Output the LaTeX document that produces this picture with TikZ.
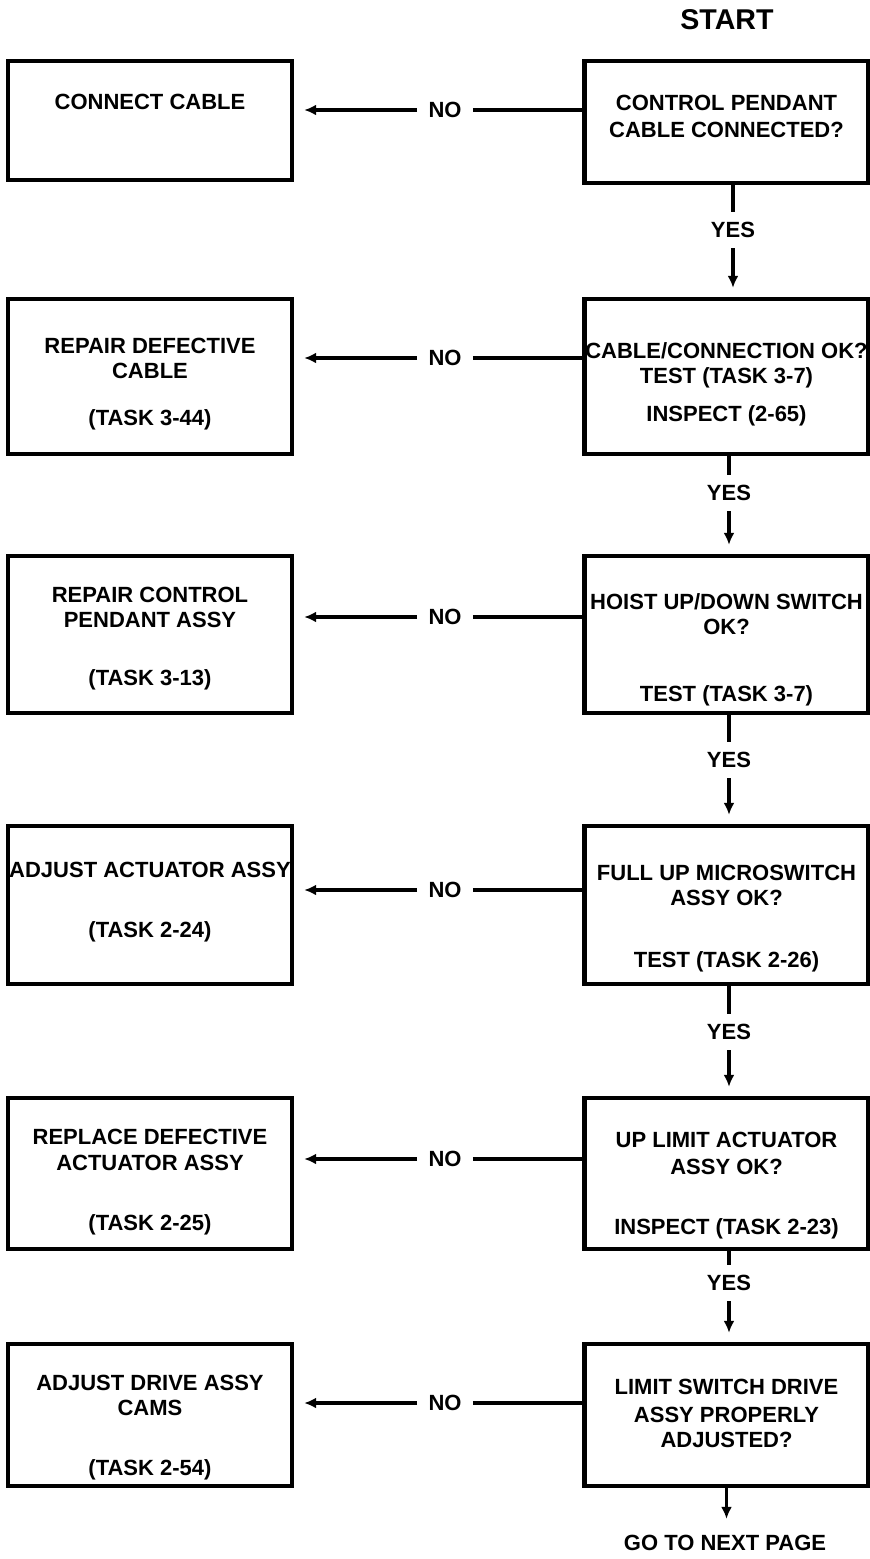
\documentclass[tikz,border=0pt]{standalone}
\usepackage{fontspec}
\setmainfont{Liberation Sans}
\usetikzlibrary{arrows.meta, positioning, calc}
\tikzset{
  box/.style={rectangle, draw=black, line width=2.2pt,
    minimum width=142pt, inner sep=0pt},
  boxtext/.style={font=\fontsize{11}{12.5}\selectfont\bfseries,
    align=center, inner sep=0pt, anchor=north},
  yesno/.style={font=\fontsize{11}{12.5}\selectfont\bfseries, inner sep=5pt},
  notag/.style={yesno, inner xsep=5.5pt},
  arrow/.style={-{Latex[length=6pt,width=5.5pt]}, line width=1.6pt},
  line/.style={line width=1.6pt}
}

\begin{document}
\begin{tikzpicture}[x=0.5pt, y=-0.5pt]
  \useasboundingbox (0,0) rectangle (870,1559);

  \node[yesno, font=\fontsize{14.3}{16}\selectfont\bfseries] (start) at (727,20) {START};

  % question boxes
  \node[box, minimum height=61pt] (q1) at (726.5,122) {};
  \node[box, minimum height=77.5pt] (q2) at (726.5,376.5) {};
  \node[box, minimum height=78.5pt] (q3) at (726.5,634.5) {};
  \node[box, minimum height=79pt] (q4) at (726.5,905) {};
  \node[box, minimum height=75.5pt] (q5) at (726.5,1173.5) {};
  \node[box, minimum height=71pt] (q6) at (726.5,1415) {};

  % action boxes
  \node[box, minimum height=59.5pt] (a1) at (150,120.5) {};
  \node[box, minimum height=77.5pt] (a2) at (150,376.5) {};
  \node[box, minimum height=78.5pt] (a3) at (150,634.5) {};
  \node[box, minimum height=79pt] (a4) at (150,905) {};
  \node[box, minimum height=75.5pt] (a5) at (150,1173.5) {};
  \node[box, minimum height=71pt] (a6) at (150,1415) {};

  \node[boxtext, below=18pt of q1.north] (q1t) {CONTROL PENDANT\\[1pt]CABLE CONNECTED?};
  \node[boxtext, below=22.5pt of q2.north] (q2t) {CABLE/CONNECTION OK?\\TEST (TASK 3-7)\\[6.5pt]INSPECT (2-65)};
  \node[boxtext, below=19.5pt of q3.north] (q3t) {HOIST UP/DOWN SWITCH\\OK?\\[21pt]TEST (TASK 3-7)};
  \node[boxtext, below=20.5pt of q4.north] (q4t) {FULL UP MICROSWITCH\\ASSY OK?\\[18.5pt]TEST (TASK 2-26)};
  \node[boxtext, below=18pt of q5.north] (q5t) {UP LIMIT ACTUATOR\\[1pt]ASSY OK?\\[17.5pt]INSPECT (TASK 2-23)};
  \node[boxtext, below=18.5pt of q6.north] (q6t) {LIMIT SWITCH DRIVE\\[1.5pt]ASSY PROPERLY\\ADJUSTED?};

  \node[boxtext, below=17.5pt of a1.north] (a1t) {CONNECT CABLE};
  \node[boxtext, below=20.5pt of a2.north] (a2t) {REPAIR DEFECTIVE\\CABLE\\[11pt](TASK 3-44)};
  \node[boxtext, below=16.5pt of a3.north] (a3t) {REPAIR CONTROL\\PENDANT ASSY\\[16.5pt](TASK 3-13)};
  \node[boxtext, below=19pt of a4.north] (a4t) {ADJUST ACTUATOR ASSY\\[17.5pt](TASK 2-24)};
  \node[boxtext, below=16.5pt of a5.north] (a5t) {REPLACE DEFECTIVE\\[0.5pt]ACTUATOR ASSY\\[17.5pt](TASK 2-25)};
  \node[boxtext, below=16.5pt of a6.north] (a6t) {ADJUST DRIVE ASSY\\CAMS\\[17.5pt](TASK 2-54)};

  % NO branches
  \node[notag] (no1) at (445,110) {NO};
  \draw[line] (no1) -- (no1 -| q1.west);
  \draw[arrow, shorten >=5pt] (no1) -- (no1 -| a1.east);
  \node[notag] (no2) at (445,358) {NO};
  \draw[line] (no2) -- (no2 -| q2.west);
  \draw[arrow, shorten >=5pt] (no2) -- (no2 -| a2.east);
  \node[notag] (no3) at (445,617) {NO};
  \draw[line] (no3) -- (no3 -| q3.west);
  \draw[arrow, shorten >=5pt] (no3) -- (no3 -| a3.east);
  \node[notag] (no4) at (445,890) {NO};
  \draw[line] (no4) -- (no4 -| q4.west);
  \draw[arrow, shorten >=5pt] (no4) -- (no4 -| a4.east);
  \node[notag] (no5) at (445,1159) {NO};
  \draw[line] (no5) -- (no5 -| q5.west);
  \draw[arrow, shorten >=5pt] (no5) -- (no5 -| a5.east);
  \node[notag] (no6) at (445,1403) {NO};
  \draw[line] (no6) -- (no6 -| q6.west);
  \draw[arrow, shorten >=5pt] (no6) -- (no6 -| a6.east);

  % YES branches
  \node[yesno] (yes1) at (733,230) {YES};
  \draw[line] (yes1 |- q1.south) -- (yes1);
  \draw[arrow, shorten >=4.5pt] (yes1) -- (yes1 |- q2.north);
  \node[yesno] (yes2) at (729,493) {YES};
  \draw[line] (yes2 |- q2.south) -- (yes2);
  \draw[arrow, shorten >=4.5pt] (yes2) -- (yes2 |- q3.north);
  \node[yesno] (yes3) at (729,760) {YES};
  \draw[line] (yes3 |- q3.south) -- (yes3);
  \draw[arrow, shorten >=4.5pt] (yes3) -- (yes3 |- q4.north);
  \node[yesno] (yes4) at (729,1032) {YES};
  \draw[line] (yes4 |- q4.south) -- (yes4);
  \draw[arrow, shorten >=4.5pt] (yes4) -- (yes4 |- q5.north);
  \node[yesno] (yes5) at (729,1283) {YES};
  \draw[line] (yes5 |- q5.south) -- (yes5);
  \draw[arrow, shorten >=4.5pt] (yes5) -- (yes5 |- q6.north);

  \node[yesno] (nextpage) at (725,1543) {GO TO NEXT PAGE};
  \draw[arrow, shorten >=3pt] (q6.south) -- (q6.south |- nextpage.north);
\end{tikzpicture}
\end{document}
